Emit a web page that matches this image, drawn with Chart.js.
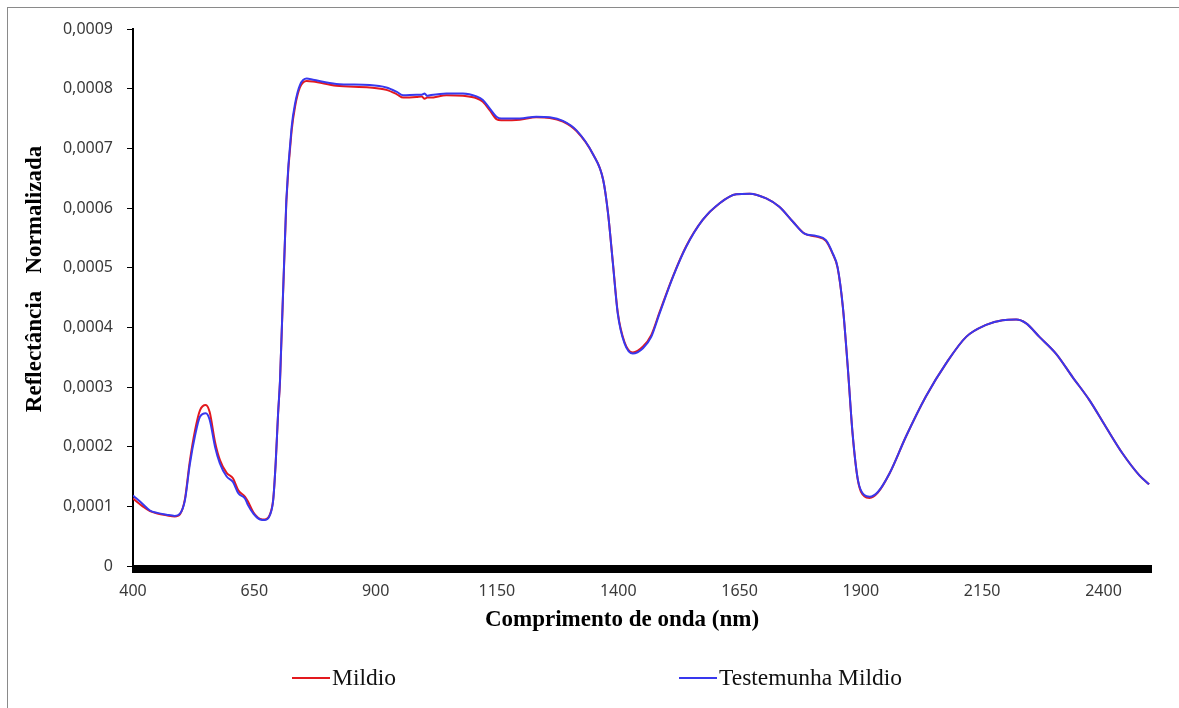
<!DOCTYPE html>
<html>
<head>
<meta charset="utf-8">
<script src="https://cdn.jsdelivr.net/npm/chart.js@4.4.1/dist/chart.umd.min.js"></script>
<style>
  html, body { margin: 0; padding: 0; background: #fff; }
  #wrap { position: relative; width: 1179px; height: 708px; overflow: hidden; }
  #frame { position: absolute; left: 7px; top: 7px; width: 1200px; height: 720px;
           border-top: 1px solid #8a8a8a; border-left: 1px solid #8a8a8a; }
  #chart { position: absolute; left: 0; top: 0; }
  .legend { position: absolute; top: 664px; display: flex; align-items: center; white-space: nowrap;
            font-family: "Liberation Serif", "Times New Roman", serif; font-size: 23.5px; color: #111; }
  .legend i { display: inline-block; width: 38px; height: 2px; margin-right: 2px; }
</style>
</head>
<body>
<div id="wrap">
  <div id="frame"></div>
  <canvas id="chart" width="1179" height="708"></canvas>
  <div class="legend" id="leg1" style="left:292px"><i style="background:#e3191e"></i><span>Mildio</span></div>
  <div class="legend" id="leg2" style="left:679px"><i style="background:#3838ee"></i><span>Testemunha Mildio</span></div>
</div>
<script>
// Wavelength samples (nm)
const wavelength = [
  400, 420, 435, 450, 469, 486, 497, 507, 517, 528,
  538, 550, 558, 569, 579, 593, 606, 617, 631, 637,
  648, 662, 672, 682, 689, 694, 699, 703, 716, 727,
  734, 744, 758, 771, 819, 888, 922, 943, 957, 984,
  995, 1001, 1006, 1012, 1046, 1080, 1108, 1121, 1135, 1149,
  1159, 1197, 1231, 1259, 1286, 1314, 1348, 1369, 1379, 1389,
  1399, 1413, 1430, 1451, 1468, 1485, 1513, 1540, 1574, 1609,
  1643, 1671, 1705, 1732, 1760, 1784, 1808, 1828, 1842, 1852,
  1863, 1873, 1883, 1894, 1907, 1918, 1935, 1959, 1993, 2034,
  2076, 2117, 2158, 2192, 2220, 2240, 2268, 2302, 2336, 2371,
  2405, 2439, 2474, 2494
];

// Normalized reflectance, diseased leaves ("Mildio")
const mildio = [
  0.000113, 0.000100, 0.000092, 0.000088, 0.000085, 0.000083, 0.000087, 0.000112, 0.000175, 0.000228,
  0.000261, 0.000270, 0.000258, 0.000208, 0.000178, 0.000156, 0.000147, 0.000127, 0.000116, 0.000108,
  0.000090, 0.000079, 0.000078, 0.000086, 0.000112, 0.000172, 0.000255, 0.000310, 0.000610, 0.000730,
  0.000770, 0.000802, 0.000813, 0.000812, 0.000805, 0.000802, 0.000798, 0.000791, 0.000785, 0.000786,
  0.000787, 0.000783, 0.000785, 0.000785, 0.000789, 0.000788, 0.000784, 0.000778, 0.000764, 0.000749,
  0.000747, 0.000748, 0.000752, 0.000751, 0.000745, 0.000729, 0.000690, 0.000647, 0.000591, 0.000508,
  0.000425, 0.000375, 0.000358, 0.000368, 0.000387, 0.000425, 0.000486, 0.000536, 0.000580, 0.000608,
  0.000623, 0.000624, 0.000616, 0.000602, 0.000577, 0.000557, 0.000552, 0.000545, 0.000523, 0.000500,
  0.000433, 0.000333, 0.000221, 0.000143, 0.000117, 0.000114, 0.000123, 0.000155, 0.000217, 0.000284,
  0.000340, 0.000384, 0.000404, 0.000412, 0.000413, 0.000407, 0.000384, 0.000356, 0.000317, 0.000278,
  0.000233, 0.000189, 0.000152, 0.000137
];

// Normalized reflectance, control leaves ("Testemunha Mildio")
const testemunha = [
  0.000118, 0.000104, 0.000093, 0.000089, 0.000086, 0.000084, 0.000088, 0.000110, 0.000170, 0.000219,
  0.000250, 0.000256, 0.000245, 0.000200, 0.000172, 0.000150, 0.000141, 0.000122, 0.000113, 0.000102,
  0.000088, 0.000078, 0.000077, 0.000085, 0.000111, 0.000172, 0.000256, 0.000312, 0.000613, 0.000736,
  0.000775, 0.000806, 0.000817, 0.000815, 0.000808, 0.000806, 0.000802, 0.000795, 0.000789, 0.000790,
  0.000790, 0.000792, 0.000788, 0.000789, 0.000792, 0.000792, 0.000787, 0.000781, 0.000767, 0.000753,
  0.000750, 0.000750, 0.000753, 0.000752, 0.000746, 0.000730, 0.000690, 0.000647, 0.000591, 0.000507,
  0.000423, 0.000373, 0.000356, 0.000365, 0.000384, 0.000423, 0.000485, 0.000535, 0.000580, 0.000608,
  0.000623, 0.000624, 0.000616, 0.000602, 0.000577, 0.000557, 0.000553, 0.000546, 0.000524, 0.000501,
  0.000434, 0.000334, 0.000222, 0.000144, 0.000119, 0.000116, 0.000124, 0.000155, 0.000217, 0.000284,
  0.000340, 0.000384, 0.000404, 0.000412, 0.000413, 0.000407, 0.000384, 0.000356, 0.000317, 0.000278,
  0.000233, 0.000189, 0.000152, 0.000137
];

// Axis ticks
const xTickValues = [400, 650, 900, 1150, 1400, 1650, 1900, 2150, 2400];
const yTickValues = [0, 0.0001, 0.0002, 0.0003, 0.0004, 0.0005, 0.0006, 0.0007, 0.0008, 0.0009];

const X_TITLE = 'Comprimento de onda (nm)';
const Y_TITLE = 'Reflectância   Normalizada';

const toPoints = vals => wavelength.map((w, i) => ({ x: w, y: vals[i] }));
const fmtY = v => (v === 0 ? '0' : v.toFixed(4).replace('.', ','));

// Heavy black bar along the wavelength axis
const axisBar = {
  id: 'axisBar',
  afterDraw(chart) {
    const { ctx, chartArea: a } = chart;
    ctx.save();
    ctx.fillStyle = '#000';
    ctx.fillRect(a.left - 1, a.bottom - 1, a.right - a.left + 1, 8);
    ctx.restore();
  }
};

// Axis titles in bold serif
const axisTitles = {
  id: 'axisTitles',
  afterDraw(chart) {
    const { ctx } = chart;
    ctx.save();
    ctx.fillStyle = '#000';
    ctx.font = 'bold 23px "Liberation Serif", "Times New Roman", serif';
    ctx.textAlign = 'center';
    ctx.textBaseline = 'middle';
    ctx.fillText(X_TITLE, 622, 620);
    ctx.translate(35, 279);
    ctx.rotate(-Math.PI / 2);
    ctx.fillText(Y_TITLE, 0, 0);
    ctx.restore();
  }
};

new Chart(document.getElementById('chart'), {
  type: 'line',
  data: {
    datasets: [
      {
        label: 'Mildio',
        data: toPoints(mildio),
        borderColor: '#e3191e',
        borderWidth: 2,
        pointRadius: 0,
        cubicInterpolationMode: 'monotone',
        order: 2
      },
      {
        label: 'Testemunha Mildio',
        data: toPoints(testemunha),
        borderColor: '#3838ee',
        borderWidth: 2,
        pointRadius: 0,
        cubicInterpolationMode: 'monotone',
        order: 1
      }
    ]
  },
  options: {
    responsive: false,
    animation: false,
    events: [],
    layout: { padding: { top: 29, right: 27, left: 0, bottom: 0 } },
    plugins: { legend: { display: false }, tooltip: { enabled: false } },
    scales: {
      x: {
        type: 'linear',
        min: 400,
        max: 2500,
        afterFit(scale) { scale.height = 142; },
        afterBuildTicks(scale) { scale.ticks = xTickValues.map(v => ({ value: v })); },
        grid: { display: false, drawTicks: false },
        border: { display: false },
        ticks: {
          autoSkip: false,
          maxRotation: 0,
          padding: 16,
          color: '#3a3a3a',
          font: { family: '"Noto Sans", sans-serif', size: 16 },
          callback: v => String(v)
        }
      },
      y: {
        type: 'linear',
        min: 0,
        max: 0.0009,
        afterFit(scale) { scale.width = 133; },
        afterBuildTicks(scale) { scale.ticks = yTickValues.map(v => ({ value: v })); },
        grid: { display: true, drawOnChartArea: false, drawTicks: true, tickLength: 6, color: '#000', lineWidth: 1 },
        border: { display: true, color: '#000', width: 2 },
        ticks: {
          padding: 14,
          color: '#3a3a3a',
          font: { family: '"Noto Sans", sans-serif', size: 16 },
          callback: v => fmtY(v)
        }
      }
    }
  },
  plugins: [axisBar, axisTitles]
});
</script>
</body>
</html>
